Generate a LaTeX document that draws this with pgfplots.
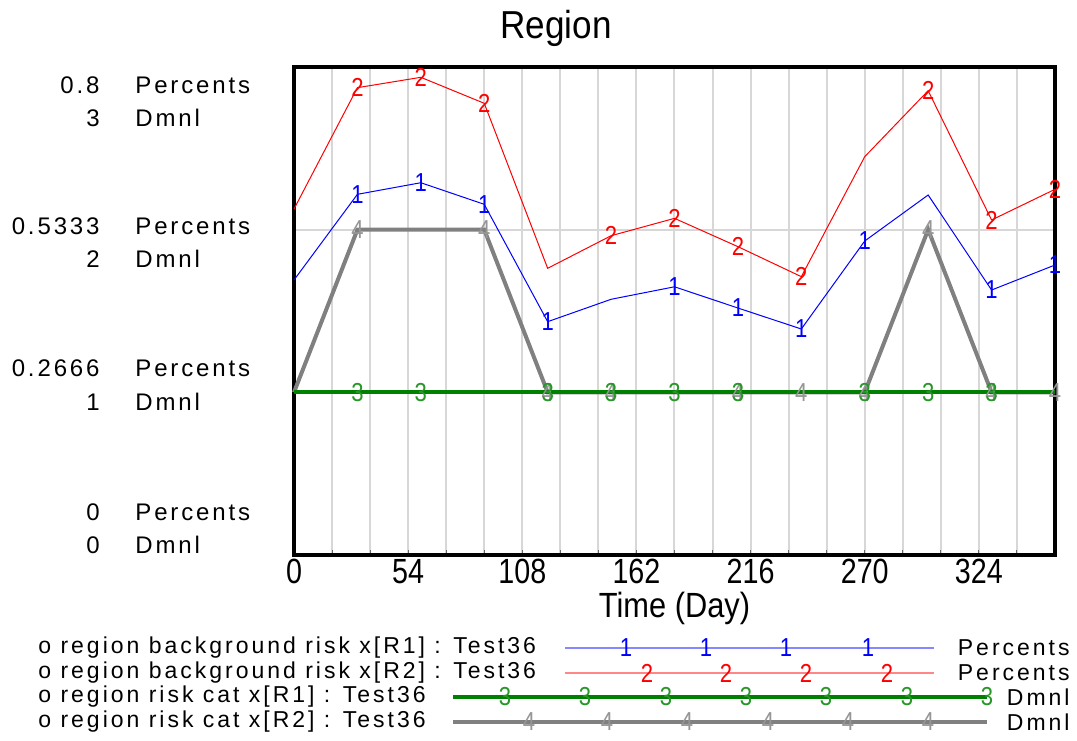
\documentclass[border=0pt]{standalone}
\usepackage{fontspec}
\setmainfont{Liberation Sans}
\newfontfamily\ylf{Liberation Sans}[LetterSpace=12]
\newfontfamily\lgf{Liberation Sans}[LetterSpace=13]
\usepackage{pgfplots}
\pgfplotsset{compat=1.18}
\definecolor{vgreen}{RGB}{0,128,0}
\definecolor{vgreenm}{RGB}{40,150,40}
\definecolor{vgray}{RGB}{128,128,128}
\definecolor{vgraym}{RGB}{150,150,150}
\definecolor{gridc}{RGB}{215,215,215}
\definecolor{lblue}{RGB}{135,135,255}
\definecolor{lred}{RGB}{255,135,135}

\pgfplotstableread{
day blue red
0   0.4508 0.5672
30  0.5913 0.7661
60  0.6103 0.7831
90  0.5749 0.7405
120 0.3825 0.4700
150 0.4192 0.5234
180 0.4397 0.5519
210 0.4049 0.5055
240 0.3705 0.4563
270 0.5148 0.6530
300 0.5902 0.7612
330 0.4344 0.5492
360 0.4754 0.5995
}\pctdata

\pgfplotstableread{
day green gray
0   1 1
30  1 2
60  1 2
90  1 2
120 1 1
150 1 1
180 1 1
210 1 1
240 1 1
270 1 1
300 1 2
330 1 1
360 1 1
}\dmnldata

\begin{document}
\begin{tikzpicture}[x=0.5pt,y=0.5pt]
\path[use as bounding box] (0,0) rectangle (1077,740);
\pgfplotsset{vaxis/.style={at={(147pt,92.5pt)}, anchor=south west, scale only axis,
  width=380.5pt, height=244pt, xmin=0, xmax=360, clip=false},
  tm/.style={text mark as node=true, text mark style={font=\fontsize{13}{13}\selectfont, inner sep=0pt, xscale=0.85}}}

\begin{axis}[vaxis, ymin=0, ymax=0.8,
  axis line style={line width=2pt},
  xtick={0,54,...,324}, minor xtick={18,36,72,90,126,144,180,198,234,252,288,306,342},
  ytick={0,0.266667,0.533333,0.8}, yticklabel={\relax}, ytick style={draw=none},
  grid=both, major grid style={gridc, line width=1pt}, minor grid style={gridc, line width=1pt},
  xtick pos=bottom, tick align=inside, major tick length=2.5pt, minor tick length=2.5pt,
  xtick style={black!60, line width=0.5pt}, minor x tick style={black!60, line width=0.5pt},
  /pgf/number format/assume math mode=true,
  xticklabel style={font=\fontsize{17.5}{17.5}\selectfont, xscale=0.82, inner sep=2pt},
  xlabel={Time (Day)}, xlabel style={font=\fontsize{17.5}{17.5}\selectfont, xscale=0.88,
    at={(axis description cs:0.5,-0.1086)}, anchor=center},
]
\addplot[blue, line width=0.5pt, mark=text, text mark={1}, tm, mark options={blue},
  mark indices={2,3,4,5,7,8,9,10,12,13}] table[x=day, y=blue] {\pctdata};
\addplot[red, line width=0.5pt, mark=text, text mark={2}, tm, mark options={red},
  mark indices={2,3,4,6,7,8,9,11,12,13}] table[x=day, y=red] {\pctdata};
\end{axis}

\begin{axis}[vaxis, ymin=0, ymax=3, hide axis]
\addplot[vgray, line width=2pt, mark=text, text mark={4}, tm, mark options={vgraym},
  mark indices={2,4,5,6,8,9,10,11,12,13}] table[x=day, y=gray] {\dmnldata};
\addplot[vgreen, line width=2pt, mark=text, text mark={3}, tm, mark options={vgreenm},
  mark indices={2,3,5,6,7,8,10,11,12}] table[x=day, y=green] {\dmnldata};
\end{axis}

\begin{axis}[at={(0pt,0pt)}, anchor=south west, scale only axis, width=538.5pt, height=370pt,
  xmin=0, xmax=1077, ymin=0, ymax=740, hide axis, clip=false]
\addplot[lblue, line width=0.75pt, mark=text, text mark={1}, tm, mark options={blue},
  mark indices={2,3,4,5}] coordinates {(565,92) (626,92) (706,92) (786,92) (868,92) (934,92)};
\addplot[lred, line width=0.75pt, mark=text, text mark={2}, tm, mark options={red},
  mark indices={2,3,4,5}] coordinates {(565,67) (647,67) (726,67) (806,67) (887,67) (934,67)};
\addplot[vgreen, line width=2pt, mark=text, text mark={3}, tm, mark options={vgreenm},
  mark indices={2,3,4,5,6,7,8}] coordinates {(453,43) (505,43) (585,43) (666,43) (746,43) (826,43) (907,43) (987,43)};
\addplot[vgray, line width=2pt, mark=text, text mark={4}, tm, mark options={vgraym},
  mark indices={2,3,4,5,6,7}] coordinates {(453,18) (529,18) (607,18) (687,18) (768,18) (848,18) (928,18) (987,18)};
\end{axis}

% title
\node[xscale=0.9] at (556,712) {\fontsize{19.5}{20}\selectfont Region};

% y labels
\begin{scope}[every node/.style={inner sep=0pt, font=\fontsize{12}{12}\ylf}]
\node[anchor=east] at (100,655) {0.8};
\node[anchor=west] at (135,655) {Percents};
\node[anchor=east] at (100,622) {3};
\node[anchor=west] at (135,622) {Dmnl};
\node[anchor=east] at (100,514) {0.5333};
\node[anchor=west] at (135,514) {Percents};
\node[anchor=east] at (100,481) {2};
\node[anchor=west] at (135,481) {Dmnl};
\node[anchor=east] at (100,372) {0.2666};
\node[anchor=west] at (135,372) {Percents};
\node[anchor=east] at (100,338) {1};
\node[anchor=west] at (135,338) {Dmnl};
\node[anchor=east] at (100,228) {0};
\node[anchor=west] at (135,228) {Percents};
\node[anchor=east] at (100,195) {0};
\node[anchor=west] at (135,195) {Dmnl};
\end{scope}

% legend text
\begin{scope}[every node/.style={inner sep=0pt, font=\fontsize{11.5}{11.5}\lgf}]
\node[anchor=west] at (38,92) {o region background risk x[R1] : Test36};
\node[anchor=west] at (38,67) {o region background risk x[R2] : Test36};
\node[anchor=west] at (38,43) {o region risk cat x[R1] : Test36};
\node[anchor=west] at (38,18) {o region risk cat x[R2] : Test36};
\node[anchor=east] at (1070,92) {Percents};
\node[anchor=east] at (1070,67) {Percents};
\node[anchor=east] at (1070,43) {Dmnl};
\node[anchor=east] at (1070,18) {Dmnl};
\end{scope}
\end{tikzpicture}
\end{document}
